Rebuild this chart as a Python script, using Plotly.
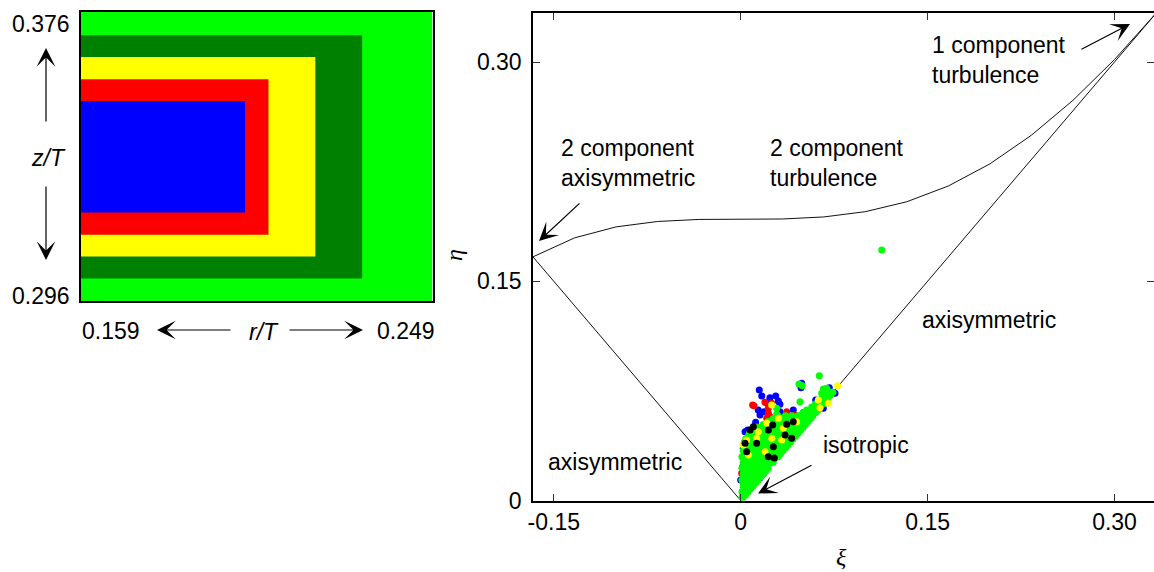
import plotly.graph_objects as go

W, H = 1154, 572
FONT = "Liberation Sans, Arial, sans-serif"
FS = 23

# ---- measurement regions in the vessel (outermost first) ----
region_colors = ["#00ff00", "#008000", "#ffff00", "#ff0000", "#0000ff"]
region_r_min = 0.159
region_r_max = [0.249, 0.231, 0.219, 0.207, 0.201]
region_z_min = [0.296, 0.3022, 0.3083, 0.3143, 0.3205]
region_z_max = [0.376, 0.3695, 0.3635, 0.3573, 0.3513]

# ---- anisotropy-invariant map boundaries ----
two_comp_xi = [-0.1667, -0.1333, -0.1000, -0.0667, -0.0333, 0.0000, 0.0333, 0.0667,
               0.1000, 0.1333, 0.1667, 0.2000, 0.2333, 0.2667, 0.3000, 0.3333]
two_comp_eta = [0.1667, 0.1797, 0.1872, 0.1909, 0.1923, 0.1925, 0.1926, 0.1940,
                0.1976, 0.2044, 0.2152, 0.2303, 0.2499, 0.2738, 0.3017, 0.3333]
axi_left_xi = [-0.1667, 0.0]
axi_left_eta = [0.1667, 0.0]
axi_right_xi = [0.0, 0.3333]
axi_right_eta = [0.0, 0.3333]

# ---- invariants (xi, eta) for each region ----
blue_pts = [
    (0.0149, 0.0756), (0.0169, 0.0715), (0.0235, 0.0703), (0.0281, 0.0715), (0.0302, 0.0681),
    (0.0315, 0.0658), (0.0422, 0.0619), (0.0490, 0.0802), (0.0484, 0.0772), (0.0602, 0.0688),
    (0.0711, 0.0772), (0.0725, 0.0740), (0.0663, 0.0631), (0.0575, 0.0631), (0.0556, 0.0590),
    (0.0155, 0.0585), (0.0120, 0.0535), (0.0075, 0.0471), (0.0213, 0.0665), (0.0222, 0.0676),
    (0.0189, 0.0608), (0.0141, 0.0619), (0.0315, 0.0608), (0.0623, 0.0665), (0.0583, 0.0608),
    (0.0757, 0.0733), (0.0502, 0.0601), (0.0056, 0.0482), (0.0021, 0.0357), (0.0016, 0.0231),
    (0.0180, 0.0180), (0.0155, 0.0155), (0.0035, 0.0471), (0.0000, 0.0140), (0.0275, 0.0482),
]
red_pts = [
    (0.0107, 0.0649), (0.0195, 0.0672), (0.0222, 0.0631), (0.0235, 0.0573), (0.0369, 0.0608),
    (0.0436, 0.0585), (0.0141, 0.0494), (0.0209, 0.0562), (0.0096, 0.0653), (0.0249, 0.0665),
    (0.0222, 0.0597), (0.0128, 0.0505), (0.0008, 0.0186),
]
green_pts = [
    (0.001, 0.002), (0.002, 0.002),
    (0.002, 0.004), (0.004, 0.004),
    (0.001, 0.006), (0.004, 0.006), (0.006, 0.006),
    (0.003, 0.008), (0.008, 0.008),
    (0.002, 0.010), (0.006, 0.010), (0.010, 0.010),
    (0.004, 0.012), (0.008, 0.012), (0.012, 0.012),
    (0.001, 0.014), (0.005, 0.014), (0.010, 0.014), (0.014, 0.014),
    (0.003, 0.016), (0.008, 0.016), (0.013, 0.016), (0.016, 0.016),
    (0.002, 0.018), (0.007, 0.018), (0.012, 0.018), (0.018, 0.018),
    (0.003, 0.020), (0.008, 0.020), (0.013, 0.020), (0.017, 0.020), (0.020, 0.020),
    (0.001, 0.022), (0.005, 0.022), (0.010, 0.022), (0.015, 0.022), (0.019, 0.022), (0.022, 0.022),
    (0.003, 0.024), (0.008, 0.024), (0.013, 0.024), (0.018, 0.024), (0.022, 0.024),
    (0.002, 0.026), (0.007, 0.026), (0.012, 0.026), (0.017, 0.026), (0.022, 0.026), (0.026, 0.026),
    (0.003, 0.028), (0.008, 0.028), (0.013, 0.028), (0.018, 0.028), (0.023, 0.028), (0.027, 0.028),
    (0.001, 0.030), (0.005, 0.030), (0.010, 0.030), (0.015, 0.030), (0.020, 0.030), (0.025, 0.030),
    (0.030, 0.030),
    (0.003, 0.032), (0.008, 0.032), (0.013, 0.032), (0.018, 0.032), (0.023, 0.032), (0.028, 0.032),
    (0.032, 0.032),
    (0.002, 0.034), (0.007, 0.034), (0.012, 0.034), (0.017, 0.034), (0.022, 0.034), (0.027, 0.034),
    (0.031, 0.034), (0.034, 0.034),
    (0.004, 0.036), (0.009, 0.036), (0.014, 0.036), (0.019, 0.036), (0.024, 0.036), (0.029, 0.036),
    (0.033, 0.036), (0.036, 0.036),
    (0.002, 0.038), (0.006, 0.038), (0.010, 0.038), (0.015, 0.038), (0.020, 0.038), (0.025, 0.038),
    (0.030, 0.038), (0.035, 0.038), (0.038, 0.038),
    (0.003, 0.040), (0.008, 0.040), (0.013, 0.040), (0.018, 0.040), (0.023, 0.040), (0.028, 0.040),
    (0.033, 0.040), (0.037, 0.040), (0.040, 0.040),
    (0.004, 0.042), (0.008, 0.042), (0.013, 0.042), (0.018, 0.042), (0.023, 0.042), (0.028, 0.042),
    (0.033, 0.042), (0.038, 0.042), (0.042, 0.042),
    (0.006, 0.044), (0.010, 0.044), (0.015, 0.044), (0.020, 0.044), (0.025, 0.044), (0.030, 0.044),
    (0.035, 0.044), (0.040, 0.044), (0.044, 0.044),
    (0.007, 0.046), (0.011, 0.046), (0.016, 0.046), (0.021, 0.046), (0.026, 0.046), (0.031, 0.046),
    (0.036, 0.046), (0.041, 0.046), (0.046, 0.046),
    (0.010, 0.048), (0.015, 0.048), (0.020, 0.048), (0.025, 0.048), (0.030, 0.048), (0.035, 0.048),
    (0.040, 0.048), (0.045, 0.048), (0.048, 0.048),
    (0.014, 0.050), (0.019, 0.050), (0.024, 0.050), (0.029, 0.050), (0.034, 0.050), (0.039, 0.050),
    (0.044, 0.050), (0.048, 0.050), (0.050, 0.050),
    (0.018, 0.052), (0.023, 0.052), (0.028, 0.052), (0.033, 0.052), (0.038, 0.052), (0.043, 0.052),
    (0.048, 0.052), (0.052, 0.052),
    (0.022, 0.054), (0.027, 0.054), (0.032, 0.054), (0.037, 0.054), (0.042, 0.054), (0.047, 0.054),
    (0.051, 0.054), (0.054, 0.054),
    (0.026, 0.056), (0.031, 0.056), (0.036, 0.056), (0.041, 0.056), (0.046, 0.056), (0.051, 0.056),
    (0.056, 0.056),
    (0.030, 0.058), (0.036, 0.058), (0.041, 0.058), (0.046, 0.058), (0.050, 0.058), (0.054, 0.058),
    (0.058, 0.058),
    (0.050, 0.060), (0.055, 0.060), (0.060, 0.060),
    (0.053, 0.062), (0.058, 0.062), (0.062, 0.062),
    (0.057, 0.064), (0.061, 0.064), (0.064, 0.064),
    (0.060, 0.066), (0.063, 0.066), (0.066, 0.066),
    (0.064, 0.068), (0.068, 0.068),
    (0.066, 0.070), (0.070, 0.070),
    (0.069, 0.072), (0.072, 0.072),
    (0.072, 0.074), (0.074, 0.074),
    (0.0631, 0.0854), (0.0494, 0.0785), (0.0468, 0.0797), (0.0476, 0.0676), (0.0663, 0.0763),
    (0.0650, 0.0699), (0.0289, 0.0631), (0.0289, 0.0590), (0.0690, 0.0768), (0.0650, 0.0733),
    (0.0189, 0.0517), (0.1132, 0.1714),
]
yellow_pts = [
    (0.0778, 0.0785), (0.0636, 0.0635), (0.0249, 0.0653), (0.0302, 0.0562), (0.0141, 0.0471),
    (0.0449, 0.0539), (0.0021, 0.0380), (0.0061, 0.0311), (0.0128, 0.0426), (0.0195, 0.0334),
    (0.0329, 0.0414), (0.0703, 0.0665), (0.0249, 0.0426), (0.0342, 0.0494),
    (0.0048, 0.0414), (0.0209, 0.0528), (0.0623, 0.0688),
]
black_pts = [
    (0.0075, 0.0482), (0.0257, 0.0517), (0.0369, 0.0521), (0.0422, 0.0539), (0.0222, 0.0482),
    (0.0035, 0.0391), (0.0128, 0.0391), (0.0262, 0.0368), (0.0222, 0.0300), (0.0270, 0.0290),
    (0.0356, 0.0448), (0.0409, 0.0426), (0.0048, 0.0334), (0.0101, 0.0505),
]

series = [
    (blue_pts, "#0000ff"),
    (red_pts, "#ff0000"),
    (green_pts, "#00ff00"),
    (yellow_pts, "#ffff00"),
    (black_pts, "#000000"),
]


def px_x(x):
    return x / W


def px_y(y):
    return 1 - y / H


fig = go.Figure()

# boundary lines of the invariant map
for xs, ys in [(two_comp_xi, two_comp_eta), (axi_left_xi, axi_left_eta),
               (axi_right_xi, axi_right_eta)]:
    fig.add_trace(go.Scatter(x=xs, y=ys, mode="lines",
                             line=dict(color="#111111", width=1),
                             xaxis="x", yaxis="y", hoverinfo="skip"))

# measured invariants, one trace per region
for pts, col in series:
    fig.add_trace(go.Scatter(x=[p[0] for p in pts], y=[p[1] for p in pts], mode="markers",
                             marker=dict(color=col, size=7, line=dict(width=0)),
                             xaxis="x", yaxis="y"))

# nested regions of the vessel sketch
shapes = []
for col, rmax, zmin, zmax in zip(region_colors, region_r_max, region_z_min, region_z_max):
    shapes.append(dict(type="rect", xref="x2", yref="y2", x0=region_r_min, x1=rmax,
                       y0=zmin, y1=zmax, fillcolor=col, line=dict(width=0), layer="below"))

axis_common = dict(showgrid=False, zeroline=False, showline=True, linecolor="black",
                   linewidth=1.5, mirror="ticks", ticks="inside", ticklen=7,
                   tickcolor="#333333", tickwidth=1, automargin=False,
                   tickfont=dict(family=FONT, size=FS, color="black"))
sketch_axis = dict(showgrid=False, zeroline=False, showticklabels=False, ticks="",
                   showline=True, linecolor="black", linewidth=2, mirror=True,
                   automargin=False)

fig.update_layout(
    width=W, height=H,
    margin=dict(l=0, r=0, t=0, b=0),
    paper_bgcolor="white", plot_bgcolor="white",
    showlegend=False,
    shapes=shapes,
    xaxis=dict(domain=[533 / W, 1.0], range=[-0.16667, 0.3317],
               tickvals=[-0.15, 0, 0.15, 0.30], ticktext=["-0.15", "0", "0.15", "0.30"],
               anchor="y", **axis_common),
    yaxis=dict(domain=[1 - 500.5 / H, 1 - 13.3 / H], range=[0, 0.33333],
               tickvals=[0, 0.15, 0.30], ticktext=["0", "0.15", "0.30"],
               ticklabelstandoff=5, anchor="x", **axis_common),
    xaxis2=dict(domain=[81 / W, 432.5 / W], range=[0.159, 0.249], anchor="y2", **sketch_axis),
    yaxis2=dict(domain=[1 - 301 / H, 1 - 11.7 / H], range=[0.296, 0.376], anchor="x2",
                **sketch_axis),
)

annotations = []


def label(text, x, y, xanchor="center", yanchor="middle", size=FS, family=FONT,
          angle=0, align="left"):
    annotations.append(dict(text=text, x=px_x(x), y=px_y(y), xref="paper", yref="paper",
                            xanchor=xanchor, yanchor=yanchor, showarrow=False,
                            align=align, textangle=angle,
                            font=dict(family=family, size=size, color="black")))


def arrow(tail, tip):
    annotations.append(dict(text="", x=px_x(tip[0]), y=px_y(tip[1]), xref="paper",
                            yref="paper", ax=tail[0] - tip[0], ay=tail[1] - tip[1],
                            showarrow=True, arrowhead=3, arrowsize=2.6, arrowwidth=1.2,
                            arrowcolor="black"))


# vessel sketch labels
label("0.376", 41, 24)
label("0.296", 41, 295.5)
label("<i>z/T</i>", 48, 158)
label("0.159", 111, 331)
label("<i>r/T</i>", 264, 332)
label("0.249", 406, 331)
arrow((46, 123), (46, 48))
arrow((46, 185), (46, 260))
arrow((232, 330), (157, 330))
arrow((288, 330), (363, 330))

# map annotations
label("1 component<br>turbulence", 930, 60, xanchor="left")
label("2 component<br>axisymmetric", 559, 163, xanchor="left")
label("2 component<br>turbulence", 768, 163, xanchor="left")
label("axisymmetric", 920, 320, xanchor="left")
label("axisymmetric", 546, 462, xanchor="left")
label("isotropic", 821, 445, xanchor="left")
arrow((1080, 50), (1130, 24))
arrow((581, 202), (539, 241))
arrow((813, 464.5), (758, 493.5))

# axis titles
label("<i>ξ</i>", 841, 557, size=24, family="Liberation Serif, Times New Roman, serif")
label("<i>η</i>", 454, 255, size=24, family="Liberation Serif, Times New Roman, serif",
      angle=-90)

fig.update_layout(annotations=annotations)

fig.write_html("out.html")
